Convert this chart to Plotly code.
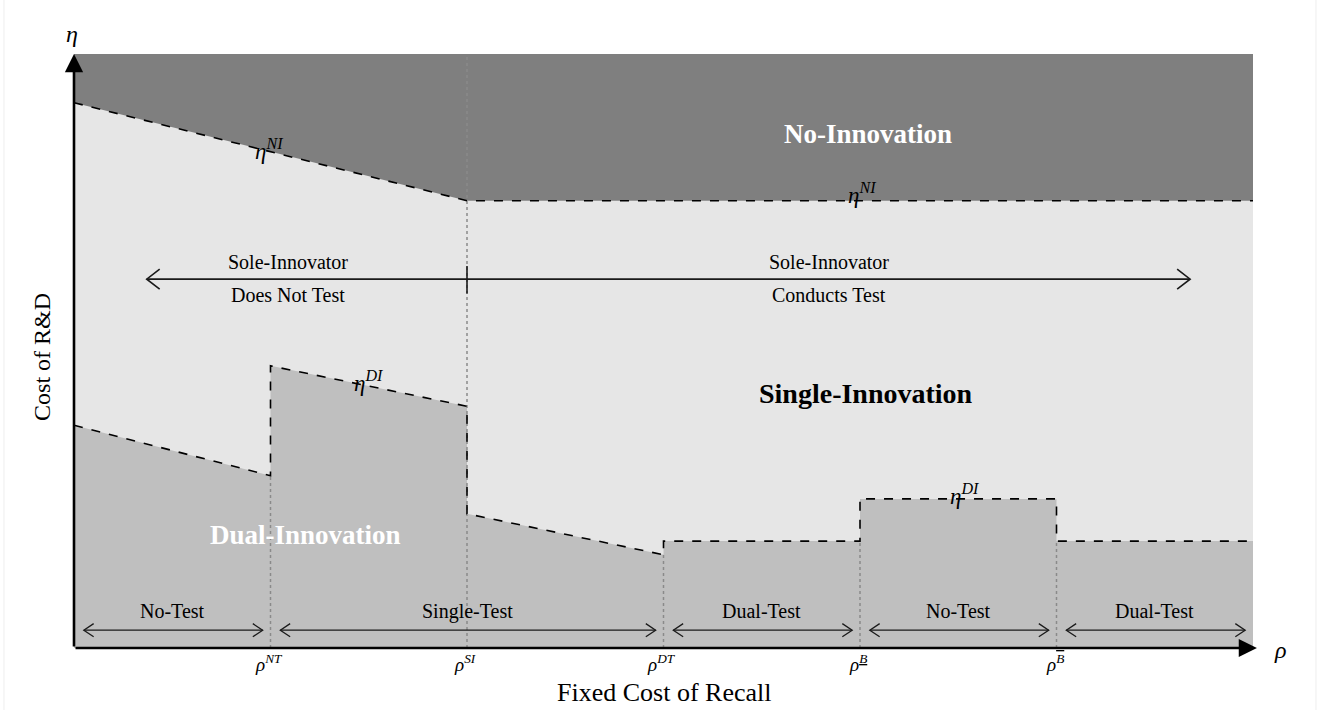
import plotly.graph_objects as go

# Fixed cost of recall (rho) break points and their labels
rho_breaks = [1, 2, 3, 4, 5]
rho_labels = [
    "ρ<sup>NT</sup>",
    "ρ<sup>SI</sup>",
    "ρ<sup>DT</sup>",
    "ρ<sup><u>B</u></sup>",
    "ρ<sup><span style='text-decoration:overline'>B</span></sup>",
]
x_max = 6
y_max = 100

# No-innovation threshold eta^NI
ni_x = [0, 2, 6]
ni_y = [91.8, 75.3, 75.3]

# Dual-innovation threshold eta^DI (piecewise, with jumps at the breaks)
di_x = [0, 1, 1, 2, 2, 3, 3, 4, 4, 5, 5, 6]
di_y = [37.5, 29.0, 47.5, 40.7, 22.6, 15.7, 18.0, 18.0, 25.1, 25.1, 18.0, 18.0]

# Testing regimes along the rho axis
test_regimes = ["No-Test", "Single-Test", "Dual-Test", "No-Test", "Dual-Test"]
test_bounds = [0, 1, 3, 4, 5, 6]

# Sole-innovator testing regimes
sole_labels = [("Sole-Innovator", "Does Not Test"), ("Sole-Innovator", "Conducts Test")]
sole_span = [0.37, 2, 5.68]
sole_level = 62.1
regime_level = 3.0

DARK = "#7f7f7f"
LIGHT = "#e6e6e6"
MID = "#bfbfbf"
SERIF = "Liberation Serif"

fig = go.Figure()

# No-innovation region: above eta^NI
fig.add_trace(go.Scatter(
    x=[0] + ni_x + [x_max, 0], y=[y_max] + ni_y + [y_max, y_max],
    fill="toself", fillcolor=DARK, mode="none", hoverinfo="skip"))

# Dual-innovation region: below eta^DI
fig.add_trace(go.Scatter(
    x=[0] + di_x + [x_max, 0], y=[0] + di_y + [0, 0],
    fill="toself", fillcolor=MID, mode="none", hoverinfo="skip"))

# Dotted guides at each break
gx, gy = [], []
for b in rho_breaks:
    if b == 2:
        top = y_max
    else:
        top = min(y for x, y in zip(di_x, di_y) if x == b)
    gx += [b, b, None]
    gy += [0, top, None]
fig.add_trace(go.Scatter(x=gx, y=gy, mode="lines",
                         line=dict(color="#8a8a8a", width=1.5, dash="dot"),
                         hoverinfo="skip"))

# Threshold curves
for xs, ys in [(ni_x, ni_y), (di_x, di_y)]:
    fig.add_trace(go.Scatter(x=xs, y=ys, mode="lines",
                             line=dict(color="black", width=1.6, dash="dash"),
                             hoverinfo="skip"))


def double_arrow(x0, x1, y, dx, dy):
    """Horizontal line with open chevrons at both ends."""
    return ([x0, x1, None, x0 + dx, x0, x0 + dx, None, x1 - dx, x1, x1 - dx, None],
            [y, y, None, y + dy, y, y - dy, None, y + dy, y, y - dy, None])


# Sole-innovator arrow with divider tick
ax_, ay_ = double_arrow(sole_span[0], sole_span[2], sole_level, 0.066, 1.7)
ax_ += [sole_span[1], sole_span[1], None]
ay_ += [sole_level + 2.2, sole_level - 2.4, None]
fig.add_trace(go.Scatter(x=ax_, y=ay_, mode="lines",
                         line=dict(color="#1a1a1a", width=1.6), hoverinfo="skip"))

# Regime arrows along the bottom
rx, ry = [], []
for a, b in zip(test_bounds[:-1], test_bounds[1:]):
    sx, sy = double_arrow(a + 0.05, b - 0.04, regime_level, 0.05, 1.1)
    rx += sx
    ry += sy
fig.add_trace(go.Scatter(x=rx, y=ry, mode="lines",
                         line=dict(color="#1a1a1a", width=1.3), hoverinfo="skip"))

ann = []


def text(x, y, s, size, color="black", **kw):
    ann.append(dict(x=x, y=y, xref="x", yref="y", text=s, showarrow=False,
                    xanchor="center", yanchor="middle",
                    font=dict(family=SERIF, size=size, color=color), **kw))


def outer_text(x, y, s, size, **kw):
    # labels outside the plotting area are placed in paper units
    ann.append(dict(x=x / x_max, y=y / y_max, xref="paper", yref="paper", text=s,
                    showarrow=False, xanchor="center", yanchor="middle",
                    font=dict(family=SERIF, size=size, color="black"), **kw))


# Axes with arrowheads
ann.append(dict(x=0, y=y_max, ax=0, ay=0, xref="x", yref="y", axref="x", ayref="y",
                text="", showarrow=True, arrowhead=2, arrowsize=1.4, arrowwidth=2.6,
                arrowcolor="black", standoff=0))
ann.append(dict(x=x_max + 0.02, y=0, ax=0, ay=0, xref="x", yref="y", axref="x", ayref="y",
                text="", showarrow=True, arrowhead=2, arrowsize=1.4, arrowwidth=2.6,
                arrowcolor="black", standoff=0))

# Region labels
text(4.04, 86.5, "<b>No-Innovation</b>", 27, "white")
text(4.03, 42.9, "<b>Single-Innovation</b>", 28)
text(1.18, 19.0, "<b>Dual-Innovation</b>", 27, "white")

# Threshold labels
text(0.99, 84.0, "<i>η<sup>NI</sup></i>", 23)
text(4.01, 76.6, "<i>η<sup>NI</sup></i>", 23)
text(1.50, 44.9, "<i>η<sup>DI</sup></i>", 23)
text(4.53, 25.9, "<i>η<sup>DI</sup></i>", 23)

# Sole-innovator labels
for (top, bot), cx in zip(sole_labels, [1.09, 3.84]):
    text(cx, sole_level + 2.8, top, 20)
    text(cx, sole_level - 2.7, bot, 20)

# Regime labels
for name, a, b in zip(test_regimes, test_bounds[:-1], test_bounds[1:]):
    text((a + b) / 2, 6.2, name, 20)

# Break labels on the rho axis
for b, lab in zip(rho_breaks, rho_labels):
    outer_text(b - 0.01, -2.6, f"<i>{lab}</i>", 19)

# Axis titles and symbols
outer_text(3.0, -7.5, "Fixed Cost of Recall", 26)
outer_text(-0.163, 49.0, "Cost of R&D", 24, textangle=-90)
outer_text(-0.01, 103.4, "<i>η</i>", 24)
outer_text(6.14, -0.3, "<i>ρ</i>", 24)

fig.update_layout(
    width=1320, height=710,
    margin=dict(l=74, r=67, t=54, b=62),
    paper_bgcolor="white", plot_bgcolor=LIGHT,
    showlegend=False,
    xaxis=dict(range=[0, x_max], visible=False, fixedrange=True),
    yaxis=dict(range=[0, y_max], visible=False, fixedrange=True),
    annotations=ann,
    shapes=[
        dict(type="line", xref="paper", yref="paper", x0=xp, x1=xp, y0=-0.11, y1=1.1,
             line=dict(color="#eeeeee", width=1))
        for xp in (-0.0594, 1.0534)
    ],
)

fig.write_html("out.html")
